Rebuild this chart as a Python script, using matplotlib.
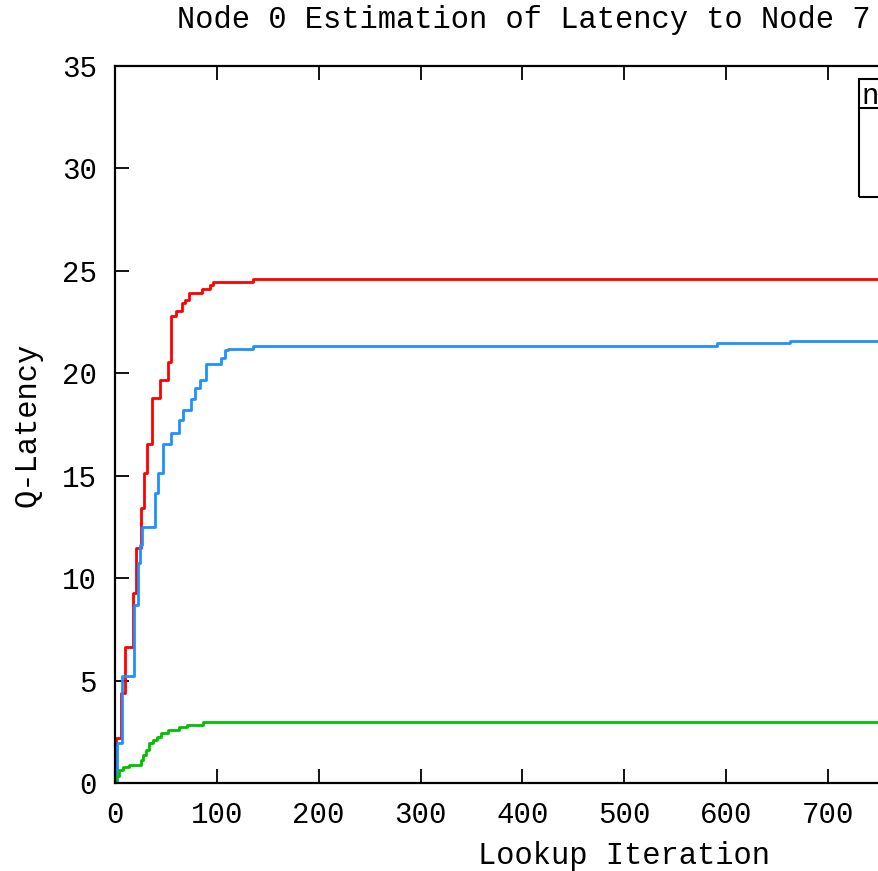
import matplotlib
matplotlib.use("Agg")
import matplotlib.pyplot as plt
from matplotlib.patches import Rectangle
from matplotlib.lines import Line2D

# ---- data ----
red_x = [0, 0.5, 5.6, 9.8, 18, 21, 26, 28.5, 31, 36, 44, 52.3, 54.7, 60, 65.5, 69, 73, 85, 93, 96.5, 135.5, 1000]
red_y = [0, 2.18, 4.39, 6.65, 9.26, 11.47, 13.44, 15.11, 16.54, 18.77, 19.67, 20.56, 22.79, 23.04, 23.44, 23.57, 23.9, 24.1, 24.3, 24.47, 24.58, 24.58]

blue_x = [0, 1.6, 6.5, 18.7, 23, 24.5, 26.5, 39, 42.5, 47, 54.7, 63, 67, 75, 78.5, 83, 89.5, 104, 108, 111, 135, 591, 663, 1000]
blue_y = [0, 1.97, 5.22, 8.69, 10.74, 11.6, 12.51, 14.14, 15.11, 16.54, 17.07, 17.72, 18.2, 18.74, 19.26, 19.67, 20.43, 20.77, 21.13, 21.2, 21.34, 21.47, 21.6, 21.6]

green_x = [0, 1, 4, 8, 14, 25.5, 27, 30.5, 33.7, 37, 41, 45, 52, 63, 71, 86.7, 1000]
green_y = [0, 0.34, 0.63, 0.77, 0.88, 1.12, 1.37, 1.61, 1.94, 2.10, 2.26, 2.43, 2.59, 2.75, 2.85, 2.97, 2.97]

x_ticks = [0, 100, 200, 300, 400, 500, 600, 700]
y_ticks = [0, 5, 10, 15, 20, 25, 30, 35]

title_text = "Node 0 Estimation of Latency to Node 7"
x_label = "Lookup Iteration"
y_label = "Q-Latency"
legend_title = "n"

# ---- figure ----
W, H = 879, 871
plt.rcParams['font.family'] = ['Liberation Mono', 'DejaVu Sans Mono']
plt.rcParams['font.size'] = 21

fig = plt.figure(figsize=(W / 100, H / 100), dpi=100)
left_px, right_px = 115, 115 + 1018.6
top_px, bot_px = 66, 783
ax = fig.add_axes([left_px / W, 1 - bot_px / H, (right_px - left_px) / W, (bot_px - top_px) / H])

ax.step(red_x, red_y, where='post', color='#FF0000', lw=2)
ax.step(blue_x, blue_y, where='post', color='#1E90FF', lw=2)
ax.step(green_x, green_y, where='post', color='#00C000', lw=2)

ax.set_xlim(0, 1000)
ax.set_ylim(0, 35)
ax.set_xticks(x_ticks)
ax.set_yticks(y_ticks)
for s in ax.spines.values():
    s.set_linewidth(1.6)
ax.tick_params(direction='in', length=10, width=1.3, top=True, right=True, pad=13)

ax.set_xlabel(x_label, fontsize=22)
ax.set_ylabel(y_label, fontsize=22)
ax.xaxis.set_label_coords(0.5, ((H - 864) / H - (1 - bot_px / H)) / ((bot_px - top_px) / H))
ax.xaxis.label.set_va('baseline')
ax.yaxis.set_label_coords((27 - left_px) / (right_px - left_px), 0.5)
ax.yaxis.label.set_va('center')

fig.text(177 / W, 1 - 28 / H, title_text, ha='left', va='baseline', fontsize=22)

# legend box (gnuplot style, extends beyond the visible area)
lx0, ly0, ly1, lyh = 859, 79, 197, 108
fig.add_artist(Rectangle((lx0 / W, 1 - ly1 / H), 400 / W, (ly1 - ly0) / H,
                         transform=fig.transFigure, fill=False, lw=1.5, ec='black'))
fig.add_artist(Line2D([lx0 / W, (lx0 + 400) / W], [1 - lyh / H, 1 - lyh / H],
                      transform=fig.transFigure, lw=1.5, color='black'))
fig.text(861 / W, 1 - 104 / H, legend_title, ha='left', va='baseline')

fig.savefig("out.png", dpi=100)
